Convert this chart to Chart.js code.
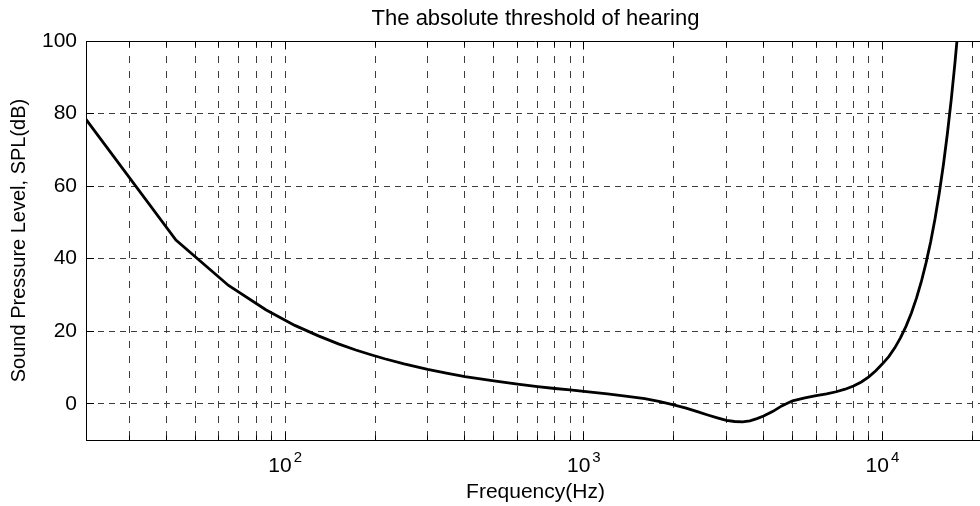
<!DOCTYPE html>
<html>
<head>
<meta charset="utf-8">
<title>The absolute threshold of hearing</title>
<script src="https://cdn.jsdelivr.net/npm/chart.js@4/dist/chart.umd.min.js"></script>
<style>
  html, body { margin: 0; padding: 0; background: #fff; overflow: hidden; }
  #wrap { width: 1000px; height: 506px; }
</style>
</head>
<body>
<div id="wrap"><canvas id="chart" width="1000" height="506"></canvas></div>
<script>
// threshold curve (Hz / dB SPL)
const freqs = [21.53, 43.07, 64.6, 86.13, 107.7, 129.2, 150.7, 172.3, 193.8, 215.3,
    250, 300, 350, 400, 500, 600, 700, 800, 900, 1000,
    1200, 1400, 1600, 1800, 2000, 2200, 2400, 2600, 2800, 3000,
    3200, 3400, 3600, 3800, 4000, 4300, 4600, 5000, 5500, 6000,
    6500, 7000, 7500, 8000, 8500, 9000, 9500, 10000, 10500, 11000,
    11500, 12000, 12500, 13000, 13500, 14000, 14500, 15000, 15500, 16000,
    16500, 17000, 17500, 18000];
const spl = [78.4, 45.1, 32.6, 25.9, 21.6, 18.7, 16.5, 14.8, 13.5, 12.4,
    11.0, 9.5, 8.4, 7.5, 6.3, 5.4, 4.7, 4.2, 3.8, 3.4,
    2.7, 2.0, 1.4, 0.6, -0.3, -1.2, -2.2, -3.1, -3.9, -4.6,
    -4.9, -5.0, -4.7, -4.1, -3.4, -2.1, -0.6, 0.8, 1.6, 2.2,
    2.7, 3.3, 4.0, 4.9, 6.0, 7.4, 9.1, 11.0, 13.0, 15.4,
    18.2, 21.4, 25.0, 29.1, 33.7, 38.9, 44.6, 51.0, 58.1, 65.9,
    74.5, 83.9, 94.2, 105.3];

const xGrid = [30, 40, 50, 60, 70, 80, 90, 100, 200, 300, 400, 500, 600, 700, 800, 900,
    1000, 2000, 3000, 4000, 5000, 6000, 7000, 8000, 9000, 10000, 20000];
const xLabels = [100, 1000, 10000];
const yTicks = [0, 20, 40, 60, 80, 100];

const FONT = '"Liberation Sans", Arial, Helvetica, sans-serif';
Chart.defaults.font.family = FONT;
Chart.defaults.color = '#000';

function align(v) {
    return Math.round(v - 0.5) + 0.5;
}

// MATLAB style extras: top border, inward ticks, 10^n labels
const matlabAxes = {
    id: 'matlabAxes',
    afterDraw(chart) {
        const ctx = chart.ctx;
        const a = chart.chartArea;
        const x = chart.scales.x;
        const y = chart.scales.y;
        const top = align(a.top);
        const bottom = align(a.bottom);
        ctx.save();
        ctx.strokeStyle = '#000';
        ctx.lineWidth = 1;
        ctx.beginPath();
        ctx.moveTo(a.left, top);
        ctx.lineTo(a.right, top);
        xGrid.forEach(v => {
            const px = align(x.getPixelForValue(v));
            const len = xLabels.includes(v) ? 8 : 5;
            ctx.moveTo(px, bottom);
            ctx.lineTo(px, bottom - len);
            ctx.moveTo(px, top);
            ctx.lineTo(px, top + len);
        });
        yTicks.forEach(v => {
            const py = align(y.getPixelForValue(v));
            ctx.moveTo(a.left, py);
            ctx.lineTo(a.left + 8, py);
        });
        ctx.stroke();

        ctx.fillStyle = '#000';
        ctx.textBaseline = 'alphabetic';
        ctx.textAlign = 'left';
        xLabels.forEach(v => {
            const exp = String(Math.round(Math.log10(v)));
            ctx.font = '21px ' + FONT;
            const wBase = ctx.measureText('10').width;
            ctx.font = '15px ' + FONT;
            const wExp = ctx.measureText(exp).width;
            const start = x.getPixelForValue(v) - (wBase + 2 + wExp) / 2;
            ctx.font = '21px ' + FONT;
            ctx.fillText('10', start, a.bottom + 32);
            ctx.font = '15px ' + FONT;
            ctx.fillText(exp, start + wBase + 2, a.bottom + 22);
        });
        ctx.restore();
    }
};

new Chart(document.getElementById('chart'), {
    type: 'line',
    data: {
        datasets: [{
            data: freqs.map((f, i) => ({x: f, y: spl[i]})),
            borderColor: '#000',
            borderWidth: 2.8,
            pointRadius: 0,
            tension: 0,
            fill: false
        }]
    },
    options: {
        responsive: false,
        animation: false,
        devicePixelRatio: 1,
        layout: {padding: {left: 0, right: 15, top: 0, bottom: 0}},
        plugins: {
            legend: {display: false},
            tooltip: {enabled: false},
            title: {
                display: true,
                fullSize: false,
                text: 'The absolute threshold of hearing',
                color: '#000',
                font: {size: 22, weight: 'normal', lineHeight: '25px'},
                padding: {top: 6, bottom: 10}
            }
        },
        scales: {
            x: {
                type: 'logarithmic',
                min: 21.53,
                max: 22050,
                afterBuildTicks: scale => {
                    scale.ticks = xGrid.map(v => ({value: v}));
                },
                afterFit: scale => {
                    scale.height = 66;
                },
                ticks: {display: false},
                grid: {color: '#3c3c3c', lineWidth: 1, drawTicks: false},
                border: {display: true, color: '#000', width: 1, dash: [7, 8]},
                title: {
                    display: true,
                    text: 'Frequency(Hz)',
                    color: '#000',
                    font: {size: 21},
                    padding: {top: 0, bottom: 1}
                }
            },
            y: {
                min: -10,
                max: 100,
                afterBuildTicks: scale => {
                    scale.ticks = yTicks.map(v => ({value: v}));
                },
                afterFit: scale => {
                    scale.width = 86;
                },
                ticks: {padding: 9, font: {size: 21}, color: '#000'},
                grid: {color: '#3c3c3c', lineWidth: 1, drawTicks: false},
                border: {display: true, color: '#000', width: 1, dash: [6, 5]},
                title: {
                    display: true,
                    text: 'Sound Pressure Level, SPL(dB)',
                    color: '#000',
                    font: {size: 20},
                    padding: {top: 7, bottom: 0}
                }
            }
        }
    },
    plugins: [matlabAxes]
});
</script>
</body>
</html>
